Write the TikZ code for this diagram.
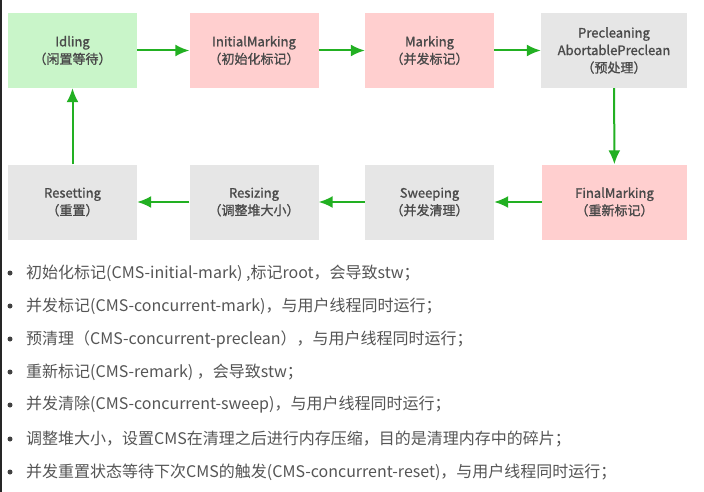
\documentclass[tikz,border=0pt]{standalone}
\usepackage{fontspec}
\setmainfont{Noto Sans CJK SC}
\newfontfamily\phasefont[FakeBold=1.2]{Noto Sans CJK SC}
\usetikzlibrary{arrows.meta}
\definecolor{idlegreen}{HTML}{C9F5C9}
\definecolor{markred}{HTML}{FFCFCF}
\definecolor{stepgray}{HTML}{E6E6E6}
\definecolor{flowgreen}{HTML}{22B022}
\definecolor{textgray}{HTML}{4A4A4A}
\definecolor{notegray}{HTML}{555555}
\tikzset{
  phase/.style={minimum width=129pt, minimum height=75pt, inner sep=0pt,
    align=center, text=textgray, font=\phasefont\fontsize{13}{17.5}\selectfont},
  idlebox/.style={phase, fill=idlegreen},
  markbox/.style={phase, fill=markred},
  graybox/.style={phase, fill=stepgray},
  flow/.style={draw=flowgreen, line width=2pt, -{Latex[length=14pt,width=12pt]}},
  note/.style={anchor=west, inner sep=0pt, text=notegray, font=\fontsize{16}{18}\selectfont},
}
\begin{document}
\begin{tikzpicture}[x=1pt,y=-1pt]
                \useasboundingbox (0,0) rectangle (704,492);
                \fill[white] (0,0) rectangle (704,492);
                \fill[black!85] (0,0) rectangle (1.5,492);
                % upper row
                \node[idlebox] (idling) at (72.5,50.5) {Idling\\（闲置等待）};
                \node[markbox] (initmark) at (254,50.5) {InitialMarking\\（初始化标记）};
                \node[markbox] (marking) at (429.5,50.5) {Marking\\（并发标记）};
                \node[graybox, minimum width=146pt] (preclean) at (614,50.5) {Precleaning\\AbortablePreclean\\（预处理）};
                % lower row
                \node[graybox] (resetting) at (72.5,202) {Resetting\\（重置）};
                \node[graybox] (resizing) at (254,202) {Resizing\\（调整堆大小）};
                \node[graybox] (sweeping) at (429.5,202) {Sweeping\\（并发清理）};
                \node[markbox, minimum width=145pt] (finalmark) at (614.5,202) {FinalMarking\\（重新标记）};
                \draw[flow] (idling) -- (initmark);
                \draw[flow] (initmark) -- (marking);
                \draw[flow] (marking) -- (preclean);
                \draw[flow] (preclean) -- (finalmark);
                \draw[flow] (finalmark) -- (sweeping);
                \draw[flow] (sweeping) -- (resizing);
                \draw[flow] (resizing) -- (resetting);
                \draw[flow] (resetting) -- (idling);
                % notes
                \fill[black!75] (10,273) circle (2.5) (10,306) circle (2.5) (10,339) circle (2.5) (10,372) circle (2.5)
                    (10,405) circle (2.5) (10,439) circle (2.5) (10,472) circle (2.5);
                \node[note] (n1) at (26,273) {初始化标记(CMS-initial-mark) ,标记root，会导致stw；};
                \node[note] (n2) at (26,306) {并发标记(CMS-concurrent-mark)，与用户线程同时运行；};
                \node[note] (n3) at (26,339) {预清理（CMS-concurrent-preclean），与用户线程同时运行；};
                \node[note] (n4) at (26,372) {重新标记(CMS-remark) ，会导致stw；};
                \node[note] (n5) at (26,405) {并发清除(CMS-concurrent-sweep)，与用户线程同时运行；};
                \node[note] (n6) at (26,439) {调整堆大小，设置CMS在清理之后进行内存压缩，目的是清理内存中的碎片；};
                \node[note] (n7) at (26,472) {并发重置状态等待下次CMS的触发(CMS-concurrent-reset)，与用户线程同时运行；};
\end{tikzpicture}
\end{document}
